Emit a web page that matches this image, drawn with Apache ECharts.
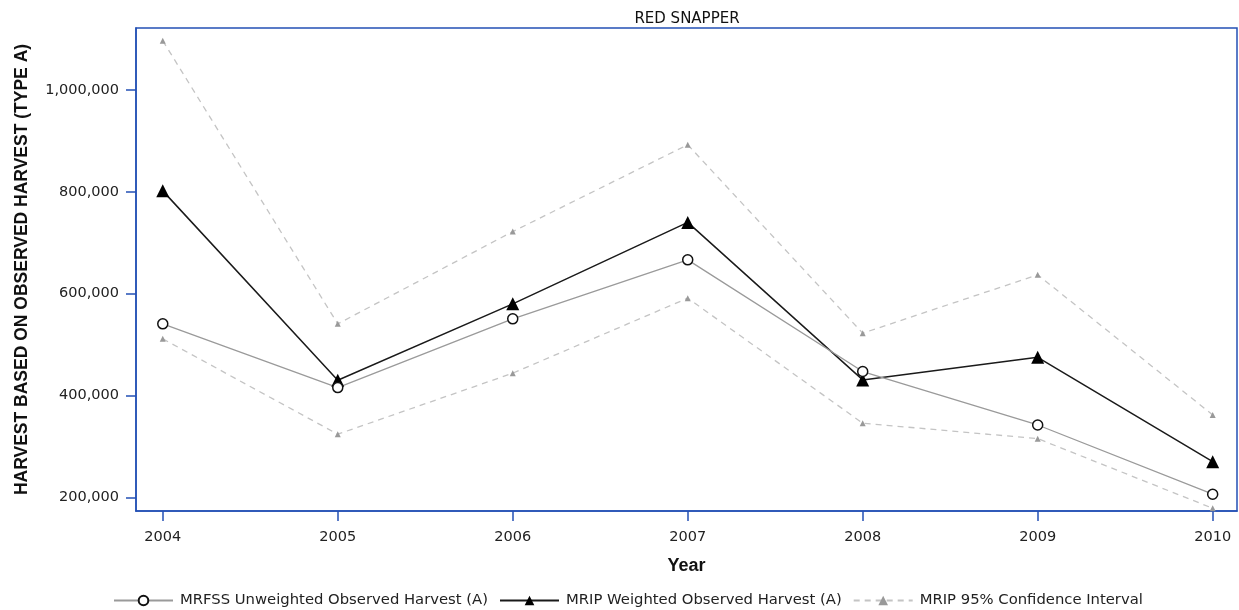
<!DOCTYPE html>
<html>
<head>
<meta charset="utf-8">
<script src="https://cdn.jsdelivr.net/npm/echarts@6/dist/echarts.min.js"></script>
<style>
html,body{margin:0;padding:0;background:#fff;}
#chart{width:1239px;height:610px;}
</style>
</head>
<body>
<div id="chart"></div>
<script>
const years = [2004, 2005, 2006, 2007, 2008, 2009, 2010];
const mrfss = [540700, 415500, 550500, 666500, 447000, 342000, 206000];
const mrip = [802000, 430000, 580000, 740000, 430600, 475000, 270000];
const ciUpper = [1097000, 540700, 722000, 892600, 522400, 637000, 361800];
const ciLower = [511200, 323900, 443800, 591200, 345500, 315200, 178400];
const yTicks = [200000, 400000, 600000, 800000, 1000000];

const titleText = 'RED SNAPPER';
const xName = 'Year';
const yName = 'HARVEST BASED ON OBSERVED HARVEST (TYPE A)';
const nameMRFSS = 'MRFSS Unweighted Observed Harvest (A)';
const nameMRIP = 'MRIP Weighted Observed Harvest (A)';
const nameCI = 'MRIP 95% Confidence Interval';

const pair = arr => years.map((y, i) => [y, arr[i]]);
const blue = '#2350b5';
const font = 'DejaVu Sans';

const chart = echarts.init(document.getElementById('chart'));
chart.setOption({
  animation: false,
  backgroundColor: '#fff',
  title: {
    text: titleText, left: 682, top: 7, textAlign: 'center',
    textStyle: {fontFamily: font, fontSize: 15, fontWeight: 'normal', color: '#111'}
  },
  legend: {
    data: [nameMRFSS, nameMRIP, nameCI],
    left: 108, top: 588,
    itemWidth: 59, itemHeight: 12, itemGap: 11,
    textStyle: {fontFamily: font, fontSize: 14.8, color: '#222', padding: [0, 0, 0, 2]}
  },
  grid: {
    left: 136, right: 2, top: 28, bottom: 99,
    show: true, borderColor: blue, borderWidth: 1.5, backgroundColor: '#fff'
  },
  xAxis: {
    type: 'value',
    min: 2003.847, max: 2010.139,
    name: xName, nameLocation: 'middle', nameGap: 46,
    nameTextStyle: {fontFamily: 'Liberation Sans', fontSize: 18, fontWeight: 'bold', color: '#111'},
    axisLine: {show: true, lineStyle: {color: blue, width: 1.5}},
    axisTick: {show: true, length: 10, lineStyle: {color: blue, width: 1.5}, customValues: years},
    axisLabel: {customValues: years, margin: 19, fontFamily: font, fontSize: 14.5, color: '#222', formatter: v => String(v)},
    splitLine: {show: false}
  },
  yAxis: {
    type: 'value',
    min: 173000, max: 1122000,
    name: yName, nameLocation: 'middle', nameGap: 105, nameRotate: 90,
    nameTextStyle: {fontFamily: 'Liberation Sans', fontSize: 17.5, fontWeight: 'bold', color: '#111'},
    axisLine: {show: true, lineStyle: {color: blue, width: 1.5}},
    axisTick: {show: true, length: 10, lineStyle: {color: blue, width: 1.5}, customValues: yTicks},
    axisLabel: {customValues: yTicks, margin: 17, fontFamily: font, fontSize: 14.5, color: '#222',
      formatter: v => v.toString().replace(/\B(?=(\d{3})+(?!\d))/g, ',')},
    splitLine: {show: false}
  },
  series: [
    {
      name: nameCI, type: 'line', data: pair(ciUpper),
      symbol: 'triangle', symbolSize: 6,
      lineStyle: {color: '#c4c4c4', width: 1.3, type: [6, 5]},
      itemStyle: {color: '#999'}
    },
    {
      name: nameCI, type: 'line', data: pair(ciLower),
      symbol: 'triangle', symbolSize: 6,
      lineStyle: {color: '#c4c4c4', width: 1.3, type: [6, 5]},
      itemStyle: {color: '#999'}
    },
    {
      name: nameMRIP, type: 'line', data: pair(mrip),
      symbol: 'triangle', symbolSize: 13,
      lineStyle: {color: '#1a1a1a', width: 1.5},
      itemStyle: {color: '#000'}
    },
    {
      name: nameMRFSS, type: 'line', data: pair(mrfss),
      symbol: 'circle', symbolSize: 10, showAllSymbol: true,
      lineStyle: {color: '#9a9a9a', width: 1.3},
      itemStyle: {color: '#fff', borderColor: '#111', borderWidth: 1.5}
    }
  ]
});
</script>
</body>
</html>
